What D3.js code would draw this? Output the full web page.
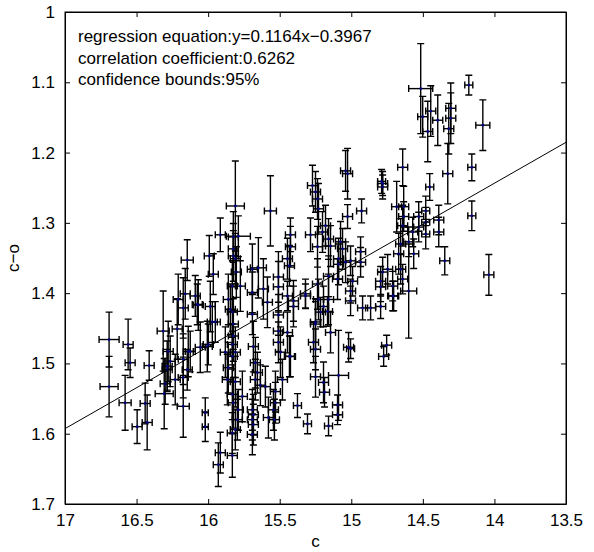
<!DOCTYPE html>
<html>
<head>
<meta charset="utf-8">
<script src="https://cdn.jsdelivr.net/npm/d3@7"></script>
<style>
body { margin: 0; background: #fff; }
text { font-family: "Liberation Sans", Arial, sans-serif; }
</style>
</head>
<body>
<div id="chart"></div>
<script>
// values: c, c-o and the half widths of the error bars
var cVals = [16.692,16.559,16.545,16.412,16.692,16.58,16.496,16.426,16.44,16.307,16.174,16.23,16.174,16.02,16.02,16.286,16.3,16.146,15.992,16.16,
  16.174,16.069,15.985,16.314,16.279,16.216,16.139,16.055,16.209,16.09,16.076,16.006,16.125,16.174,16.265,16.286,16.146,15.915,15.81,15.565,
  15.789,15.824,15.81,15.803,15.831,15.859,15.831,15.824,15.964,15.971,15.649,15.614,15.586,15.691,15.691,15.509,15.509,15.509,15.446,15.425,
  15.425,15.432,15.404,15.32,15.285,15.271,15.25,15.236,15.229,15.201,15.18,15.159,15.145,15.236,15.229,15.25,15.194,15.159,15.096,15.075,
  15.061,15.04,15.026,15.089,15.04,14.781,14.781,14.928,14.683,15.026,14.935,14.935,14.795,14.795,14.704,14.795,14.865,14.921,15.005,14.991,
  15.159,15.089,15.236,14.179,14.515,14.305,14.305,14.319,14.445,14.396,14.466,14.501,14.081,14.158,14.326,14.452,14.641,14.788,14.158,14.389,
  14.389,14.48,14.48,14.48,14.529,14.529,14.571,14.599,14.634,14.634,14.641,14.655,14.669,14.564,14.347,14.039,14.746,14.781,14.655,15.005,
  14.599,14.641,14.711,14.711,15.005,15.005,14.753,14.774,15.089,15.096,15.096,15.145,15.194,15.187,15.25,15.264,15.25,15.25,15.376,15.306,
  15.159,15.432,15.215,15.166,15.404,15.446,15.32,15.95,15.999,15.831,15.81,15.88,15.866,15.81,15.831,15.824,15.789,15.796,15.81,15.831,
  15.761,15.915,15.929,15.831,15.684,15.67,15.656,15.67,15.691,15.684,15.691,15.684,15.691,15.6,15.579,15.53,15.53,15.544,15.537,15.509,
  15.509,15.495,15.425,15.446,15.481,15.019,15.635,15.824,15.824,15.775,15.845,15.824,15.831,15.859,15.691];
var coVals = [1.466,1.473,1.499,1.503,1.533,1.556,1.59,1.584,1.557,1.543,1.561,1.523,1.52,1.57,1.59,1.504,1.529,1.353,1.347,1.401,
  1.421,1.417,1.419,1.454,1.483,1.451,1.483,1.477,1.409,1.404,1.416,1.476,1.483,1.494,1.497,1.509,1.509,1.317,1.276,1.283,
  1.319,1.337,1.351,1.37,1.39,1.409,1.427,1.444,1.373,1.441,1.364,1.394,1.413,1.399,1.43,1.377,1.391,1.431,1.351,1.317,
  1.334,1.361,1.411,1.404,1.317,1.247,1.256,1.266,1.28,1.313,1.304,1.323,1.333,1.387,1.409,1.441,1.419,1.409,1.38,1.327,
  1.337,1.226,1.23,1.351,1.356,1.244,1.249,1.283,1.277,1.291,1.341,1.356,1.383,1.391,1.404,1.419,1.421,1.421,1.411,1.383,
  1.376,1.359,1.334,1.104,1.109,1.137,1.151,1.166,1.141,1.154,1.17,1.149,1.161,1.221,1.23,1.249,1.221,1.241,1.29,1.296,
  1.313,1.283,1.299,1.316,1.291,1.306,1.313,1.327,1.277,1.291,1.304,1.33,1.344,1.344,1.354,1.374,1.366,1.37,1.366,1.354,
  1.397,1.38,1.39,1.404,1.397,1.479,1.474,1.49,1.517,1.559,1.573,1.456,1.527,1.541,1.519,1.47,1.48,1.444,1.56,1.586,
  1.589,1.49,1.427,1.426,1.419,1.404,1.401,1.441,1.473,1.473,1.484,1.484,1.523,1.526,1.544,1.556,1.566,1.58,1.594,1.599,
  1.547,1.627,1.644,1.631,1.476,1.499,1.513,1.523,1.566,1.573,1.58,1.587,1.601,1.533,1.577,1.54,1.556,1.566,1.58,1.454,
  1.47,1.484,1.49,1.456,1.523,1.477,1.531,1.32,1.347,1.39,1.423,1.461,1.49,1.506,1.366];
var cErr = [0.07,0.035,0.035,0.035,0.063,0.042,0.035,0.035,0.035,0.063,0.042,0.035,0.035,0.021,0.021,0.035,0.035,0.042,0.035,0.035,
  0.035,0.035,0.035,0.042,0.035,0.035,0.035,0.035,0.035,0.035,0.035,0.035,0.035,0.035,0.035,0.035,0.035,0.035,0.063,0.042,
  0.084,0.035,0.035,0.035,0.035,0.035,0.035,0.035,0.035,0.035,0.056,0.035,0.035,0.035,0.035,0.035,0.035,0.035,0.035,0.035,
  0.035,0.035,0.035,0.035,0.035,0.035,0.035,0.035,0.035,0.035,0.035,0.035,0.035,0.035,0.035,0.035,0.035,0.035,0.035,0.035,
  0.035,0.035,0.035,0.035,0.035,0.035,0.035,0.035,0.035,0.035,0.035,0.035,0.035,0.035,0.035,0.035,0.035,0.035,0.035,0.035,
  0.035,0.035,0.035,0.028,0.084,0.035,0.035,0.035,0.035,0.035,0.035,0.035,0.049,0.028,0.035,0.028,0.035,0.028,0.028,0.035,
  0.035,0.028,0.028,0.028,0.035,0.035,0.035,0.035,0.035,0.035,0.035,0.035,0.035,0.035,0.035,0.035,0.035,0.035,0.035,0.035,
  0.056,0.035,0.035,0.035,0.035,0.028,0.035,0.035,0.07,0.035,0.035,0.035,0.035,0.035,0.035,0.035,0.035,0.035,0.028,0.028,
  0.028,0.035,0.035,0.035,0.035,0.035,0.035,0.035,0.035,0.035,0.035,0.035,0.035,0.035,0.035,0.035,0.035,0.035,0.035,0.035,
  0.035,0.035,0.035,0.035,0.035,0.035,0.035,0.035,0.035,0.035,0.035,0.035,0.035,0.035,0.035,0.035,0.035,0.035,0.035,0.035,
  0.035,0.035,0.035,0.035,0.035,0.035,0.035,0.035,0.035,0.035,0.035,0.035,0.035,0.035,0.035];
var coErr = [0.039,0.036,0.021,0.021,0.043,0.039,0.024,0.039,0.029,0.05,0.044,0.036,0.029,0.021,0.021,0.036,0.029,0.029,0.029,0.036,
  0.043,0.036,0.036,0.057,0.043,0.043,0.036,0.036,0.036,0.029,0.029,0.036,0.029,0.036,0.036,0.029,0.029,0.024,0.064,0.05,
  0.029,0.036,0.036,0.036,0.036,0.036,0.036,0.036,0.029,0.029,0.043,0.043,0.036,0.029,0.029,0.036,0.036,0.029,0.029,0.024,
  0.029,0.029,0.029,0.017,0.024,0.029,0.029,0.029,0.036,0.029,0.029,0.029,0.029,0.036,0.029,0.029,0.029,0.036,0.029,0.029,
  0.029,0.029,0.036,0.029,0.029,0.017,0.017,0.017,0.036,0.017,0.021,0.021,0.021,0.021,0.021,0.017,0.017,0.017,0.021,0.021,
  0.029,0.029,0.029,0.014,0.064,0.036,0.036,0.036,0.036,0.036,0.043,0.029,0.036,0.019,0.043,0.019,0.026,0.017,0.021,0.021,
  0.021,0.021,0.021,0.021,0.021,0.021,0.021,0.021,0.029,0.021,0.029,0.036,0.029,0.021,0.02,0.029,0.021,0.021,0.021,0.021,
  0.067,0.021,0.021,0.021,0.017,0.014,0.014,0.014,0.064,0.014,0.014,0.029,0.029,0.021,0.029,0.029,0.029,0.036,0.017,0.014,
  0.014,0.029,0.021,0.021,0.029,0.021,0.021,0.029,0.029,0.029,0.036,0.036,0.036,0.036,0.036,0.036,0.029,0.029,0.029,0.029,
  0.036,0.029,0.031,0.031,0.036,0.036,0.029,0.029,0.029,0.029,0.029,0.029,0.029,0.029,0.029,0.029,0.029,0.029,0.029,0.029,
  0.029,0.036,0.029,0.029,0.029,0.021,0.029,0.036,0.036,0.036,0.036,0.036,0.036,0.036,0.036];

var xTicks = [17, 16.5, 16, 15.5, 15, 14.5, 14, 13.5];
var yTicks = [1, 1.1, 1.2, 1.3, 1.4, 1.5, 1.6, 1.7];
var noteLines = ["regression equation:y=0.1164x\u22120.3967",
                 "correlation coefficient:0.6262",
                 "confidence bounds:95%"];
// fitted line as it is drawn in the picture
var fitSlope = 0.1164, fitIntercept = -0.386;

var W = 594, H = 552;
var margin = {top: 12, right: 28, bottom: 48, left: 65};
var width = W - margin.left - margin.right,
    height = H - margin.top - margin.bottom;

var x = d3.scaleLinear().domain([17, 13.5]).range([0, width]);
var y = d3.scaleLinear().domain([1, 1.7]).range([0, height]);

var svg = d3.select("#chart").append("svg")
    .attr("width", W)
    .attr("height", H)
  .append("g")
    .attr("transform", "translate(" + margin.left + "," + margin.top + ")");

var pts = cVals.map(function(c, i) {
  return {c: c, co: coVals[i], ec: cErr[i], eco: coErr[i]};
});

var cap = 3.5;
var bars = svg.append("g")
    .attr("stroke", "#000")
    .attr("stroke-width", 1.4)
    .attr("fill", "none");

var eb = bars.selectAll("g").data(pts).enter().append("g");
// vertical error bar + caps
eb.append("line")
    .attr("x1", function(d) { return x(d.c); })
    .attr("x2", function(d) { return x(d.c); })
    .attr("y1", function(d) { return y(d.co - d.eco); })
    .attr("y2", function(d) { return y(d.co + d.eco); });
eb.append("path")
    .attr("d", function(d) {
      var px = x(d.c);
      return "M" + (px - cap) + "," + y(d.co - d.eco) + "H" + (px + cap) +
             "M" + (px - cap) + "," + y(d.co + d.eco) + "H" + (px + cap);
    });
// horizontal error bar + caps
eb.append("line")
    .attr("x1", function(d) { return x(d.c - d.ec); })
    .attr("x2", function(d) { return x(d.c + d.ec); })
    .attr("y1", function(d) { return y(d.co); })
    .attr("y2", function(d) { return y(d.co); });
eb.append("path")
    .attr("d", function(d) {
      var py = y(d.co);
      return "M" + x(d.c - d.ec) + "," + (py - cap) + "V" + (py + cap) +
             "M" + x(d.c + d.ec) + "," + (py - cap) + "V" + (py + cap);
    });

svg.append("g").selectAll("circle").data(pts).enter().append("circle")
    .attr("cx", function(d) { return x(d.c); })
    .attr("cy", function(d) { return y(d.co); })
    .attr("r", 1.4)
    .attr("fill", "#000080");

// regression line
svg.append("line")
    .attr("x1", x(17)).attr("y1", y(fitSlope * 17 + fitIntercept))
    .attr("x2", x(13.5)).attr("y2", y(fitSlope * 13.5 + fitIntercept))
    .attr("stroke", "#000")
    .attr("stroke-width", 1);

// axes, ticks inward on all four sides
var tl = 5;
svg.append("g").attr("transform", "translate(0," + height + ")")
    .call(d3.axisBottom(x).tickValues(xTicks).tickSizeInner(-tl).tickSizeOuter(0).tickPadding(10).tickFormat(String));
svg.append("g")
    .call(d3.axisTop(x).tickValues(xTicks).tickSizeInner(-tl).tickSizeOuter(0).tickFormat(""));
svg.append("g")
    .call(d3.axisLeft(y).tickValues(yTicks).tickSizeInner(-tl).tickSizeOuter(0).tickPadding(10).tickFormat(String));
svg.append("g").attr("transform", "translate(" + width + ",0)")
    .call(d3.axisRight(y).tickValues(yTicks).tickSizeInner(-tl).tickSizeOuter(0).tickFormat(""));
svg.selectAll(".domain").attr("stroke", "#000");
svg.selectAll(".tick line").attr("stroke", "#000");
svg.selectAll(".tick text").attr("font-size", 17).attr("fill", "#000")
    .style("font-family", "'Liberation Sans', Arial, sans-serif");

svg.append("rect")
    .attr("width", width).attr("height", height)
    .attr("fill", "none").attr("stroke", "#000");

svg.selectAll(".note").data(noteLines).enter().append("text")
    .attr("class", "note")
    .attr("x", 13)
    .attr("y", function(d, i) { return 30 + i * 21.5; })
    .attr("font-size", 17)
    .text(function(d) { return d; });

svg.append("text")
    .attr("x", width / 2)
    .attr("y", height + 43)
    .attr("text-anchor", "middle")
    .attr("font-size", 17)
    .text("c");
svg.append("text")
    .attr("transform", "rotate(-90)")
    .attr("x", -height / 2)
    .attr("y", -46)
    .attr("text-anchor", "middle")
    .attr("font-size", 17)
    .text("c\u2212o");
</script>
</body>
</html>
